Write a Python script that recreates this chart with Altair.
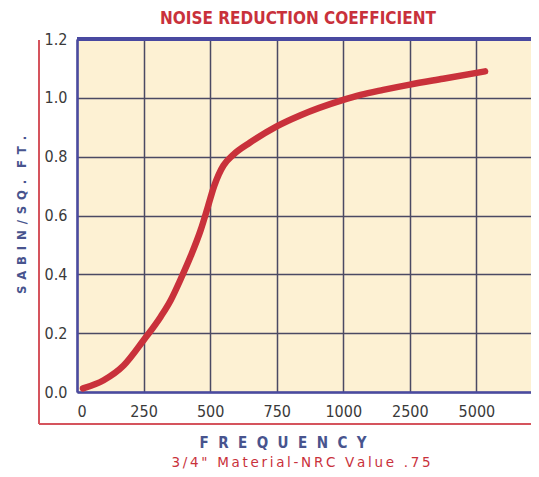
import json
import altair as alt
import pandas as pd

# Frequency axis categories (evenly spaced positions on the chart)
freq_labels = ["0", "250", "500", "750", "1000", "2500", "5000"]

# Curve: position along the frequency axis (0 = "0", 1 = "250", ...)
curve_pos = [0.09, 0.40, 0.70, 1.0, 1.26, 1.41, 1.56, 1.71, 1.86, 1.96, 2.06, 2.13,
             2.20, 2.35, 2.60, 3.0, 3.35, 4.0, 4.26, 4.6, 5.0, 5.5, 6.13]
curve_val = [0.012, 0.04, 0.09, 0.176, 0.257, 0.313, 0.385, 0.463, 0.552, 0.625, 0.700, 0.740,
             0.770, 0.807, 0.848, 0.903, 0.94, 0.993, 1.01, 1.027, 1.045, 1.065, 1.09]

y_ticks = [0.0, 0.2, 0.4, 0.6, 0.8, 1.0, 1.2]

title_text = "NOISE REDUCTION COEFFICIENT"
y_title = "\u2002".join(list("SABIN/SQ.")) + "\u2003" + "\u2002".join(list("FT."))
x_title = "\u2002\u2009".join(list("FREQUENCY"))
sub_title = "\u2009".join(list("3/4\" Material-NRC Value .75"))

df = pd.DataFrame({"pos": curve_pos, "val": curve_val})

W, H = 454, 353
COND = "DejaVu Sans Condensed, Liberation Sans Narrow, DejaVu Sans, sans-serif"
RED = "#c9313b"
BLUE = "#48548e"
GRID = "#4b4a63"
BORDER = "#4a4aa0"

label_expr = json.dumps(freq_labels) + "[datum.value]"

x_enc = alt.X("pos:Q", scale=alt.Scale(domain=[0, 6.82], nice=False, zero=False),
              axis=alt.Axis(values=list(range(8)), labelExpr=label_expr, title=None,
                            grid=True, gridColor=GRID, gridWidth=1.5, gridOpacity=1,
                            domain=True, domainColor=BORDER, domainWidth=2.5,
                            ticks=False, labelPadding=11,
                            labelFont=COND, labelFontSize=16, labelColor="#3a3a3a"))
y_enc = alt.Y("val:Q", scale=alt.Scale(domain=[0, 1.2], nice=False),
              axis=alt.Axis(values=y_ticks, format=".1f", title=None,
                            grid=True, gridColor=GRID, gridWidth=1.5, gridOpacity=1,
                            domain=True, domainColor=BORDER, domainWidth=2.5,
                            ticks=False, labelPadding=10,
                            labelFont=COND, labelFontSize=16, labelColor="#3a3a3a"))

curve = alt.Chart(df).mark_line(color=RED, strokeWidth=6.5, strokeCap="round",
                                interpolate="monotone").encode(x=x_enc, y=y_enc)

top_border = alt.Chart(df).mark_rule(color=BORDER, strokeWidth=2.5).encode(
    x=alt.value(0), x2=alt.value(W), y=alt.value(0))
frame_v = alt.Chart(df).mark_rule(color="#d4545e", strokeWidth=1.5).encode(
    x=alt.value(-38), y=alt.value(1), y2=alt.value(H + 32))
frame_h = alt.Chart(df).mark_rule(color="#d4545e", strokeWidth=1.5).encode(
    x=alt.value(-38), x2=alt.value(W + 10), y=alt.value(H + 32))

def txt(t, x, y, color, size, weight="normal", angle=0, font=COND, baseline="middle"):
    return alt.Chart(pd.DataFrame({"t": [t]})).mark_text(
        color=color, fontSize=size, fontWeight=weight, angle=angle, font=font,
        align="center", baseline=baseline).encode(
        text="t:N", x=alt.value(x), y=alt.value(y))

t1 = txt(title_text, 221, -20, RED, 17, "bold")
t2 = txt(y_title, -55, 176, BLUE, 13, "bold", angle=270)
t3 = txt(x_title, 206, 404, BLUE, 15, "bold")
t4 = txt(sub_title, 224, 428, RED, 13.5, "normal", font="DejaVu Sans, sans-serif",
         baseline="alphabetic")

chart = alt.layer(curve, top_border, frame_v, frame_h, t1, t2, t3, t4).properties(
    width=W, height=H,
    autosize=alt.AutoSizeParams(type="none"),
    padding={"left": 69, "top": 31, "right": 0, "bottom": 77},
    background="white",
).configure_view(fill="#fdf1d3", stroke=None)

chart.save("out.html", embed_options={"renderer": "svg", "actions": False})
